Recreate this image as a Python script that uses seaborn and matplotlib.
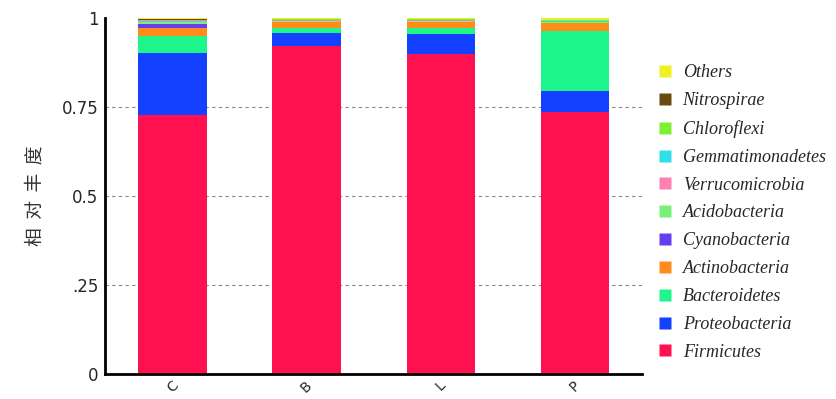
import numpy as np
import pandas as pd
import seaborn as sns
import matplotlib
import matplotlib.pyplot as plt
from matplotlib.lines import Line2D

matplotlib.use('Agg')

samples = ['C', 'B', 'L', 'P']
phyla = ['Firmicutes', 'Proteobacteria', 'Bacteroidetes', 'Actinobacteria', 'Cyanobacteria',
         'Acidobacteria', 'Verrucomicrobia', 'Gemmatimonadetes', 'Chloroflexi', 'Nitrospirae', 'Others']
colors = ['#FF1050', '#1440FF', '#1EF58A', '#FF8C1A', '#6A3CF0',
          '#7AF07A', '#FF7FB0', '#2FE0E8', '#7FF030', '#6B4A10', '#F0F020']

firmicutes = [0.727, 0.921, 0.898, 0.737]
proteobacteria = [0.175, 0.038, 0.056, 0.058]
bacteroidetes = [0.047, 0.012, 0.019, 0.168]
actinobacteria = [0.023, 0.017, 0.015, 0.022]
cyanobacteria = [0.011, 0.001, 0.001, 0.001]
acidobacteria = [0.005, 0.002, 0.002, 0.002]
verrucomicrobia = [0.003, 0.002, 0.002, 0.002]
gemmatimonadetes = [0.002, 0.001, 0.001, 0.002]
chloroflexi = [0.002, 0.002, 0.002, 0.002]
nitrospirae = [0.001, 0.001, 0.001, 0.001]
others = [0.004, 0.003, 0.003, 0.005]

layers = [firmicutes, proteobacteria, bacteroidetes, actinobacteria, cyanobacteria,
          acidobacteria, verrucomicrobia, gemmatimonadetes, chloroflexi, nitrospirae, others]

sns.set_style('white')
plt.rcParams['font.family'] = ['DejaVu Sans']

fig = plt.figure(figsize=(8.37, 3.99), dpi=100)
ax = fig.add_axes([0.126, 0.063, 0.641, 0.892])

# stacked bars: draw cumulative totals from the top layer down
cum = np.cumsum(np.array(layers), axis=0)
for i in range(len(layers) - 1, -1, -1):
    df = pd.DataFrame({'sample': samples, 'value': cum[i]})
    sns.barplot(data=df, x='sample', y='value', color=colors[i], width=0.51,
                saturation=1, edgecolor='none', linewidth=0, ax=ax, zorder=2)

for yv in [0.25, 0.5, 0.75]:
    ax.axhline(yv, color='#888888', linestyle=(0, (3, 3)), linewidth=0.8, zorder=1)

ax.set_xlim(-0.5, 3.5)
ax.set_ylim(0, 1)
ax.set_yticks([0, 0.25, 0.5, 0.75, 1])
ax.set_yticklabels(['0', '.25', '0.5', '0.75', '1'], fontsize=12)
ax.set_xticks(range(4))
ax.set_xticklabels(samples, rotation=45, fontsize=10, ha='center')
ax.set_xticks([0.5, 1.5, 2.5], minor=True)
ax.tick_params(axis='x', which='major', length=0, pad=3)
ax.tick_params(axis='x', which='minor', length=3, width=1.2, direction='out')
ax.tick_params(axis='y', length=4, width=1.5, direction='out', pad=1)
ax.set_xlabel('')
ax.set_ylabel('相  对  丰  度', family=['Noto Sans CJK SC', 'DejaVu Sans'],
              fontsize=13.5, color='#333333', labelpad=12)

sns.despine(ax=ax)
for side in ['left', 'bottom']:
    ax.spines[side].set_linewidth(2)
    ax.spines[side].set_color('black')

handles = [Line2D([0], [0], marker='s', linestyle='none', markersize=8,
                  markerfacecolor=c, markeredgecolor='none') for c in colors]
leg = ax.legend(handles[::-1], phyla[::-1], loc='upper left', bbox_to_anchor=(0.995, 0.915),
                frameon=False, handletextpad=0.5, labelspacing=0.6, handlelength=1.0,
                prop={'family': 'Liberation Serif', 'style': 'italic', 'size': 13})

fig.savefig('out.png', dpi=100)
